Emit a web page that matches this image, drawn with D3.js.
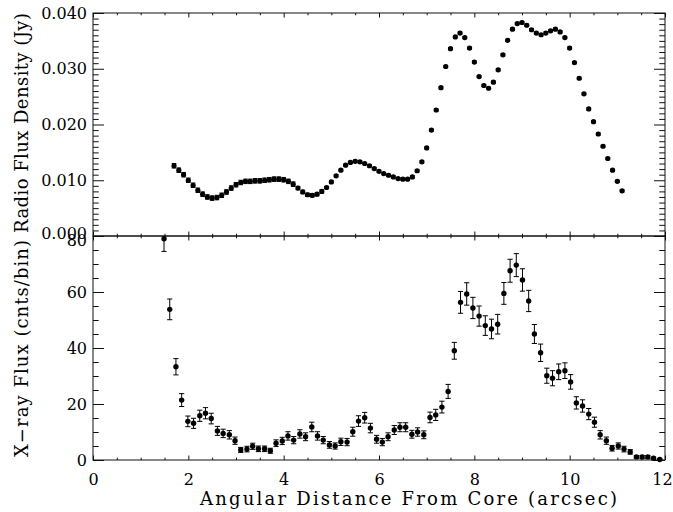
<!DOCTYPE html>
<html>
<head>
<meta charset="utf-8">
<script src="https://cdn.jsdelivr.net/npm/d3@7"></script>
<style>
  body { margin: 0; background: #fff; }
  svg { display: block; }
  text { font-family: "DejaVu Serif", serif; fill: #000; }
</style>
</head>
<body>
<svg width="673" height="512"></svg>
<script>
// radio profile (Jy)
var radioX = [1.7, 1.8, 1.9, 2.0, 2.1, 2.2, 2.3, 2.4, 2.5, 2.6, 2.7, 2.8, 2.9, 3.0, 3.1, 3.2,
  3.3, 3.4, 3.5, 3.6, 3.7, 3.8, 3.9, 4.0, 4.1, 4.2, 4.3, 4.4, 4.5, 4.6, 4.7, 4.8, 4.9, 5.0,
  5.1, 5.2, 5.3, 5.4, 5.5, 5.6, 5.7, 5.8, 5.9, 6.0, 6.1, 6.2, 6.3, 6.4, 6.5, 6.6, 6.7, 6.8,
  6.9, 7.0, 7.1, 7.2, 7.3, 7.4, 7.5, 7.6, 7.7, 7.8, 7.9, 8.0, 8.1, 8.2, 8.3, 8.4, 8.5, 8.6,
  8.7, 8.8, 8.9, 9.0, 9.1, 9.2, 9.3, 9.4, 9.5, 9.6, 9.7, 9.8, 9.9, 10.0, 10.1, 10.2, 10.3,
  10.4, 10.5, 10.6, 10.7, 10.8, 10.9, 11.0, 11.1];
var radioFlux = [0.0126, 0.0118, 0.0110, 0.0100, 0.0091, 0.0082, 0.0075, 0.0070, 0.0068, 0.0069,
  0.0073, 0.0079, 0.0086, 0.0092, 0.0096, 0.0098, 0.0098, 0.0099, 0.0099, 0.0100, 0.0101, 0.0102,
  0.0102, 0.0101, 0.0098, 0.0093, 0.0086, 0.0079, 0.0074, 0.0073, 0.0075, 0.0080, 0.0087, 0.0097,
  0.0108, 0.0118, 0.0127, 0.0132, 0.0134, 0.0133, 0.0130, 0.0126, 0.0121, 0.0116, 0.0112, 0.0109,
  0.0106, 0.0103, 0.0102, 0.0102, 0.0106, 0.0117, 0.0133, 0.0158, 0.0190, 0.0226, 0.0266, 0.0304,
  0.0336, 0.0357, 0.0364, 0.0356, 0.0337, 0.0312, 0.0286, 0.0270, 0.0265, 0.0276, 0.0298, 0.0325,
  0.0351, 0.0371, 0.0381, 0.0383, 0.0378, 0.0370, 0.0364, 0.0361, 0.0364, 0.0368, 0.0371, 0.0366,
  0.0356, 0.0337, 0.0311, 0.0283, 0.0255, 0.0228, 0.0205, 0.0183, 0.0161, 0.0139, 0.0118, 0.0098,
  0.0081];
var radioErr = [0.0004, 0.0004, 0.0004, 0.0004, 0.0004, 0.0004, 0.0004, 0.0004, 0.0004, 0.0004,
  0.0004, 0.0004, 0.0004, 0.0004, 0.0004, 0.0004, 0.0004, 0.0004, 0.0004, 0.0004, 0.0004, 0.0004,
  0.0004, 0.0004, 0.0004, 0.0004, 0.0003, 0.0003, 0.0003, 0.0003, 0.0003, 0.0003, 0.0002, 0.0002,
  0.0002, 0.0002, 0.0002, 0.0002, 0.0002, 0.0002, 0.0002, 0.0002, 0.0002, 0.0002, 0.0002, 0.0002,
  0.0002, 0.0002, 0.0002, 0.0002, 0.0002, 0.0002, 0.0002, 0.0002, 0.0002, 0.0002, 0.0002, 0.0002,
  0.0002, 0.0002, 0.0002, 0.0002, 0.0002, 0.0002, 0.0002, 0.0002, 0.0002, 0.0002, 0.0002, 0.0002,
  0.0002, 0.0002, 0.0002, 0.0002, 0.0002, 0.0002, 0.0002, 0.0002, 0.0002, 0.0002, 0.0002, 0.0002,
  0.0002, 0.0002, 0.0002, 0.0002, 0.0002, 0.0002, 0.0002, 0.0002, 0.0002, 0.0002, 0.0002, 0.0002,
  0.0002];

// x-ray profile (cnts/bin)
var xrayX = [1.49, 1.61, 1.74, 1.86, 1.99, 2.11, 2.24, 2.36, 2.48, 2.61, 2.73, 2.86, 2.98, 3.10,
  3.23, 3.35, 3.47, 3.60, 3.72, 3.84, 3.97, 4.09, 4.21, 4.34, 4.46, 4.59, 4.71, 4.83, 4.96, 5.08,
  5.20, 5.33, 5.45, 5.57, 5.70, 5.82, 5.95, 6.07, 6.19, 6.32, 6.44, 6.56, 6.69, 6.81, 6.94, 7.07,
  7.19, 7.32, 7.45, 7.58, 7.71, 7.84, 7.97, 8.10, 8.23, 8.36, 8.49, 8.62, 8.75, 8.88, 9.01, 9.14,
  9.26, 9.39, 9.52, 9.64, 9.77, 9.90, 10.02, 10.14, 10.27, 10.40, 10.52, 10.64, 10.77, 10.89,
  11.02, 11.14, 11.27, 11.40, 11.52, 11.64, 11.76, 11.89];
var xrayFlux = [79.0, 53.8, 33.3, 21.4, 13.8, 13.1, 15.8, 16.7, 14.8, 10.4, 9.5, 9.0, 6.9, 3.6,
  3.9, 4.9, 4.0, 4.0, 3.3, 6.0, 6.8, 8.6, 7.1, 9.3, 8.3, 11.8, 8.6, 7.1, 5.4, 5.0,
  6.5, 6.4, 10.1, 13.9, 15.1, 11.4, 7.4, 6.4, 8.3, 10.7, 11.7, 11.7, 9.2, 10.0, 9.0, 15.2,
  16.1, 18.9, 24.5, 39.0, 56.3, 59.3, 54.3, 51.4, 48.0, 46.8, 48.5, 59.5, 67.6, 69.6, 64.3, 56.8,
  45.0, 38.3, 30.1, 29.2, 31.5, 31.9, 27.9, 20.4, 19.3, 16.4, 13.5, 9.0, 6.9, 4.2,
  5.0, 3.9, 2.9, 1.1, 1.1, 1.1, 0.6, 0.2];
var xrayErr = [4.5, 3.7, 2.9, 2.3, 1.9, 1.8, 2.0, 2.0, 1.9, 1.6, 1.5, 1.5, 1.3, 0.9,
  1.0, 1.1, 1.0, 1.0, 0.9, 1.2, 1.3, 1.5, 1.3, 1.5, 1.4, 1.7, 1.5, 1.3, 1.2, 1.1,
  1.3, 1.3, 1.6, 1.9, 1.9, 1.7, 1.4, 1.3, 1.4, 1.6, 1.6, 1.6, 1.4, 1.5, 1.4, 1.9,
  2.0, 2.1, 2.5, 3.0, 3.9, 4.0, 3.8, 3.6, 3.5, 3.5, 3.5, 3.9, 4.1, 4.1, 4.0, 3.8,
  3.4, 3.1, 2.7, 2.7, 2.8, 2.8, 2.6, 2.2, 2.2, 2.0, 1.8, 1.5, 1.3, 1.0,
  1.1, 1.0, 0.8, 0.5, 0.5, 0.5, 0.4, 0.2];

var xMajor = [0, 2, 4, 6, 8, 10, 12];
var radioMajor = [0, 0.01, 0.02, 0.03, 0.04];
var xrayMajor = [0, 20, 40, 60, 80];

var svg = d3.select("svg");

// plot box edges (px)
var padL = 93, padR = 665, padT = 13, padMid = 236, padB = 460;

var x = d3.scaleLinear().domain([0, 12]).range([padL, padR]);
var yRadio = d3.scaleLinear().domain([0, 0.04]).range([padMid, padT]);
var yXray = d3.scaleLinear().domain([0, 80]).range([padB, padMid]);

var xMinor = d3.range(0, 12.01, 0.5).filter(function(v) { return v % 2 !== 0; });
var radioMinor = d3.range(0, 40.5, 1).filter(function(v) { return v % 10 !== 0; }).map(function(v) { return v / 1000; });
var xrayMinor = d3.range(0, 81, 5).filter(function(v) { return v % 20 !== 0; });

// axes of one panel, all ticks pointing inside (IDL style)
function panel(y, yMajor, yMinor, yFmt, xLabels) {
  var y0 = y.range()[0], y1 = y.range()[1];
  var g = svg.append("g").attr("class", "panel");

  function ax(gen, tr, vals, size, fmt, pad) {
    var a = g.append("g").attr("transform", tr)
      .call(gen.tickValues(vals).tickSize(size).tickPadding(pad).tickFormat(fmt));
    a.select(".domain").remove();
    a.selectAll(".tick line").attr("stroke", "#111").attr("stroke-width", 1);
    a.selectAll("text").attr("font-size", 16).attr("font-family", "DejaVu Serif");
    return a;
  }

  var bx = ax(d3.axisBottom(x), "translate(0," + y0 + ")", xMajor, -4.5, xLabels ? d3.format("d") : "", 14);
  // keep the last label inside the page
  bx.selectAll(".tick text").filter(function(d) { return d === 12; }).attr("dx", -3);
  ax(d3.axisBottom(x), "translate(0," + y0 + ")", xMinor, -2.3, "", 0);
  ax(d3.axisTop(x), "translate(0," + y1 + ")", xMajor, -4.5, "", 0);
  ax(d3.axisTop(x), "translate(0," + y1 + ")", xMinor, -2.3, "", 0);
  var ly = ax(d3.axisLeft(y), "translate(" + padL + ",0)", yMajor, -11, yFmt, 6);
  ax(d3.axisLeft(y), "translate(" + padL + ",0)", yMinor, -5.7, "", 0);
  ax(d3.axisRight(y), "translate(" + padR + ",0)", yMajor, -11, "", 0);
  ax(d3.axisRight(y), "translate(" + padR + ",0)", yMinor, -5.7, "", 0);

  // the two labels on the shared edge sit a little apart, as in the original
  ly.selectAll(".tick text")
    .filter(function(d) { return y(d) === padMid; })
    .attr("y", xLabels ? 4 : -3);

  g.append("rect")
    .attr("x", padL).attr("y", y1)
    .attr("width", padR - padL).attr("height", y0 - y1)
    .attr("fill", "none").attr("stroke", "#111").attr("stroke-width", 1);
}

panel(yRadio, radioMajor, radioMinor, d3.format(".3f"), false);
panel(yXray, xrayMajor, xrayMinor, d3.format("d"), true);

// points with error bars
function points(xs, vs, es, y, r, cap) {
  var data = xs.map(function(d, i) { return { x: d, v: vs[i], e: es[i] }; });
  var g = svg.append("g");
  var pt = g.selectAll("g").data(data).enter().append("g");
  pt.append("line")
    .attr("x1", function(d) { return x(d.x); })
    .attr("x2", function(d) { return x(d.x); })
    .attr("y1", function(d) { return Math.max(y(d.v + d.e), y.range()[1]); })
    .attr("y2", function(d) { return y(d.v - d.e); })
    .attr("stroke", "#000").attr("stroke-width", 1);
  [1, -1].forEach(function(s) {
    pt.filter(function(d) { return y(d.v + d.e) >= y.range()[1] || s < 0; })
      .append("line")
      .attr("x1", function(d) { return x(d.x) - cap; })
      .attr("x2", function(d) { return x(d.x) + cap; })
      .attr("y1", function(d) { return y(d.v + s * d.e); })
      .attr("y2", function(d) { return y(d.v + s * d.e); })
      .attr("stroke", "#000").attr("stroke-width", 1);
  });
  pt.append("circle")
    .attr("cx", function(d) { return x(d.x); })
    .attr("cy", function(d) { return y(d.v); })
    .attr("r", r)
    .attr("fill", "#000");
}

points(radioX, radioFlux, radioErr, yRadio, 2.6, 2.3);
points(xrayX, xrayFlux, xrayErr, yXray, 2.7, 2.6);

// axis titles: pick a font size that nearly fills the measured width
function title(tr, width, str) {
  var t = svg.append("text")
    .attr("transform", tr)
    .attr("text-anchor", "middle").attr("font-size", 17)
    .text(str);
  var w = t.node().getComputedTextLength();
  var fs = Math.min(18, 17 * width / w);
  t.attr("font-size", fs);
  w = t.node().getComputedTextLength();
  if (w < width) t.attr("textLength", width).attr("lengthAdjust", "spacing");
}

title("translate(" + ((200 + 617) / 2) + ",505)", 417, "Angular Distance From Core (arcsec)");
title("translate(28," + ((12 + 234) / 2) + ") rotate(-90)", 220, "Radio Flux Density (Jy)");
title("translate(28," + ((240 + 457) / 2) + ") rotate(-90)", 217, "X\u2212ray Flux (cnts/bin)");
</script>
</body>
</html>
